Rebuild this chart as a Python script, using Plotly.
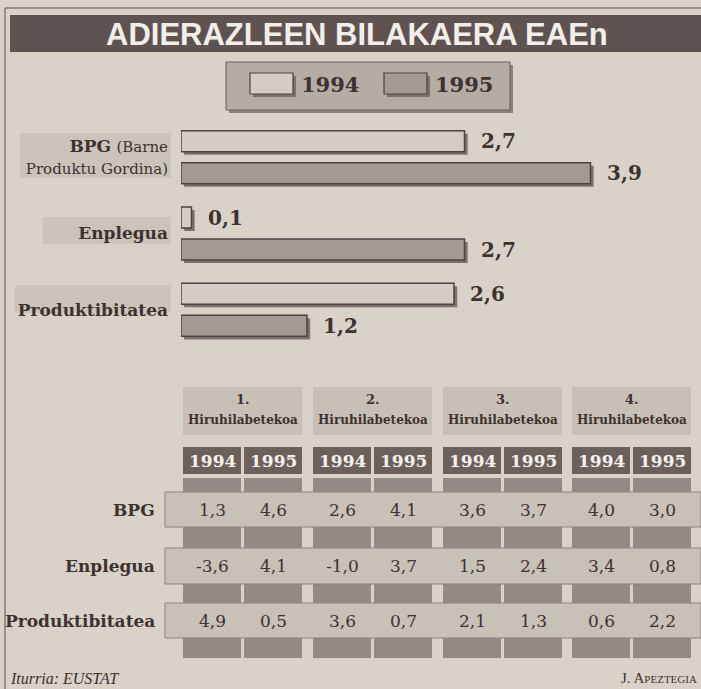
import plotly.graph_objects as go

# ---------------- data ----------------
categories = ["BPG", "Enplegua", "Produktibitatea"]
category_labels = [
    "<b>BPG</b> <span style='font-size:15px'>(Barne</span><br><span style='font-size:15px'>Produktu Gordina)</span>",
    "<b>Enplegua</b>",
    "<b>Produktibitatea</b>",
]
years = ["1994", "1995"]
annual_1994 = [2.7, 0.1, 2.6]
annual_1995 = [3.9, 2.7, 1.2]

quarters = ["1.", "2.", "3.", "4."]
quarter_word = "Hiruhilabetekoa"
row_labels = ["BPG", "Enplegua", "Produktibitatea"]
# per row: [Q1-1994, Q1-1995, Q2-1994, Q2-1995, Q3-1994, Q3-1995, Q4-1994, Q4-1995]
quarterly_bpg = [1.3, 4.6, 2.6, 4.1, 3.6, 3.7, 4.0, 3.0]
quarterly_enplegua = [-3.6, 4.1, -1.0, 3.7, 1.5, 2.4, 3.4, 0.8]
quarterly_produktibitatea = [4.9, 0.5, 3.6, 0.7, 2.1, 1.3, 0.6, 2.2]

title = "ADIERAZLEEN BILAKAERA EAEn"
source = "Iturria: EUSTAT"
author = "J. A<span style='font-size:11px'>PEZTEGIA</span>"

# ---------------- style ----------------
W, H = 701, 689
BG = "#d8d2c9"
INK = "#3d3230"
C94 = "#d4cdc5"
C95 = "#a39a95"
OUTLINE = "#4e4240"
SHADOW = "#7d726d"
DARKCELL = "#6c605c"
STRIP = "#948a85"
BAND = "#c8c1b8"
SERIF = "DejaVu Serif, Liberation Serif, serif"
SANS = "Liberation Sans, Arial, sans-serif"

# bar geometry (category units / value units)
BAR_W = 0.275
BAR_OFF = {years[0]: -0.3475, years[1]: 0.0725}
SH_Y = 0.04
SH_X = 0.03


def X(px):
    return px / W


def Y(py):
    return 1 - py / H


def fmt(v):
    return f"{v:.1f}".replace(".", ",")


def rect(x0, y0, x1, y1, fill, line=None):
    return dict(type="rect", xref="paper", yref="paper", x0=X(x0), x1=X(x1), y0=Y(y1), y1=Y(y0),
                fillcolor=fill, line=line or dict(width=0), layer="below")


def label(text, x, y, size, color=INK, xanchor="center", family=SERIF):
    return dict(text=text, xref="paper", yref="paper", x=X(x), y=Y(y), xanchor=xanchor, yanchor="middle",
                showarrow=False, font=dict(family=family, size=size, color=color))


fig = go.Figure()
series = [(years[0], annual_1994, C94), (years[1], annual_1995, C95)]
# drop shadows
for yr, vals, col in series:
    fig.add_trace(go.Bar(
        orientation="h", x=vals, y=categories, base=SH_X,
        offset=BAR_OFF[yr] + SH_Y, width=BAR_W,
        marker=dict(color=SHADOW, line=dict(width=0)),
        showlegend=False, hoverinfo="skip",
    ))
# bars
for yr, vals, col in series:
    fig.add_trace(go.Bar(
        name=yr, orientation="h", x=vals, y=categories,
        offset=BAR_OFF[yr], width=BAR_W,
        marker=dict(color=col, line=dict(color=OUTLINE, width=1.5)),
        showlegend=False, hoverinfo="skip",
    ))

shapes = []
annotations = []

# frame
shapes.append(dict(type="line", xref="paper", yref="paper", x0=X(5), x1=X(5), y0=Y(8), y1=Y(689),
                   line=dict(color="#5a4f4a", width=1), layer="below"))
shapes.append(dict(type="line", xref="paper", yref="paper", x0=X(5), x1=X(701), y0=Y(8), y1=Y(8),
                   line=dict(color="#5a4f4a", width=1), layer="below"))
# title bar
shapes.append(rect(10, 15, 701, 52, "#5e5350"))
annotations.append(label(f"<b>{title}</b>", 357, 34, 31, color="#f2eee8", family=SANS))

# legend
shapes.append(rect(229, 65, 513, 113, "#8c827d"))
shapes.append(rect(226, 62, 510, 110, "#b5aca6", dict(color="#6a5f5a", width=1)))
for sx, col, yr in [(250, C94, years[0]), (384, C95, years[1])]:
    shapes.append(rect(sx + 3, 76, sx + 46, 97, SHADOW))
    shapes.append(rect(sx, 73, sx + 43, 94, col, dict(color=OUTLINE, width=1.2)))
    annotations.append(label(f"<b>{yr}</b>", sx + 49, 85, 21, xanchor="left"))

# shaded boxes behind category labels
for x0, y0, y1 in [(20, 133, 178), (43, 217, 244), (15, 285, 313)]:
    shapes.append(rect(x0, y0, 171, y1, "#cbc4bb"))

# bar value labels
for vals, shift in [(annual_1994, 16), (annual_1995, -16)]:
    for cat, v in zip(categories, vals):
        annotations.append(dict(text=f"<b>{fmt(v)}</b>", x=v, y=cat, xref="x", yref="y",
                                xanchor="left", yanchor="middle", xshift=14, yshift=shift, showarrow=False,
                                font=dict(family=SERIF, size=20, color=INK)))

# ---------------- table ----------------
q_x0 = [183, 313, 443, 572]
cw, cg = 58, 3
cell_x = []
for x0 in q_x0:
    cell_x.append((x0, x0 + cw))
    cell_x.append((x0 + cw + cg, x0 + 2 * cw + cg))

# quarter header boxes
for x0, q in zip(q_x0, quarters):
    shapes.append(rect(x0, 387, x0 + 2 * cw + cg, 435, "#c7c0b7"))
    cx = x0 + (2 * cw + cg) / 2
    annotations.append(label(f"<b>{q}</b>", cx, 399, 13))
    annotations.append(label(f"<b>{quarter_word}</b>", cx, 420, 12))

# year header cells
for i, (a, b) in enumerate(cell_x):
    shapes.append(rect(a, 447, b, 474, DARKCELL))
    annotations.append(label(f"<b>{years[i % 2]}</b>", (a + b) / 2, 461, 17, color="#f4f0ea"))

# dark strips
for y0, y1 in [(478, 494), (525, 548), (582, 605), (637, 658)]:
    for a, b in cell_x:
        shapes.append(rect(a, y0, b, y1, STRIP))

# light row bands + values
rows = [quarterly_bpg, quarterly_enplegua, quarterly_produktibitatea]
bands = [(492, 527), (548, 584), (603, 638)]
for lab, vals, (y0, y1) in zip(row_labels, rows, bands):
    shapes.append(rect(165, y0, 701, y1, BAND, dict(color="#8d837e", width=1)))
    cy = (y0 + y1) / 2
    annotations.append(label(f"<b>{lab}</b>", 157, cy, 17, xanchor="right"))
    for (a, b), v in zip(cell_x, vals):
        annotations.append(label(fmt(v), (a + b) / 2, cy, 17))

# footer
annotations.append(label(f"<i>{source}</i>", 8, 678, 16, xanchor="left", family="Liberation Serif, serif"))
annotations.append(label(author, 699, 678, 15, xanchor="right", family="Liberation Serif, serif"))

fig.update_layout(
    width=W, height=H,
    margin=dict(l=0, r=0, t=0, b=0),
    paper_bgcolor=BG, plot_bgcolor="rgba(0,0,0,0)",
    barmode="overlay",
    xaxis=dict(domain=[X(181), X(601)], range=[0, 4.0], visible=False, fixedrange=True),
    yaxis=dict(domain=[Y(348), Y(119)], range=[2.5, -0.5], type="category",
               categoryorder="array", categoryarray=categories,
               tickmode="array", tickvals=categories, ticktext=category_labels,
               showgrid=False, zeroline=False, showline=False, ticks="",
               ticklabelstandoff=12,
               tickfont=dict(family=SERIF, size=17, color=INK), fixedrange=True),
    shapes=shapes, annotations=annotations,
    showlegend=False,
)

fig.write_html("out.html", config={"displayModeBar": False},
               post_script="document.body.style.margin='0';document.body.style.overflow='hidden';")
